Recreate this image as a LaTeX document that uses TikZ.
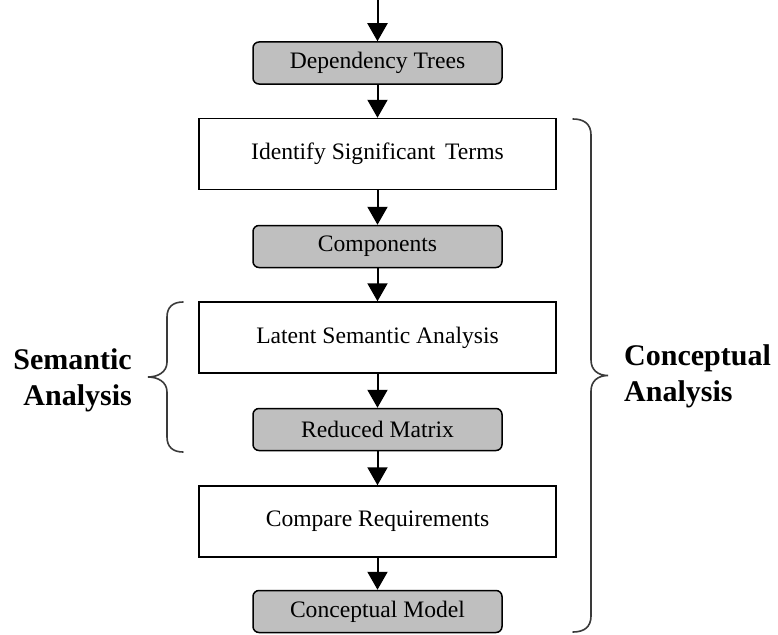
\documentclass[tikz,border=0pt]{standalone}
\usepackage{fontspec}
\setmainfont{Liberation Serif}
\usetikzlibrary{arrows.meta}
\definecolor{datafill}{HTML}{BFBFBF}
\definecolor{bracecol}{HTML}{3A3A3A}
\begin{document}
\begin{tikzpicture}[x=1pt,y=-1pt,
  procbox/.style={draw, line width=1.5pt, fill=white, minimum width=357pt,
    minimum height=71pt, inner sep=0pt, font=\fontsize{23.6}{27}\selectfont},
  databox/.style={draw, line width=1.5pt, fill=datafill, rounded corners=6pt,
    minimum width=249pt, minimum height=42pt, inner sep=0pt,
    font=\fontsize{23.6}{27}\selectfont},
  flow/.style={line width=2pt, -{Triangle[width=20pt,length=18pt]}},
  bracepath/.style={line width=1.6pt, draw=bracecol, line cap=round},
  sidelabel/.style={font=\bfseries\fontsize{30}{36}\selectfont, inner sep=0pt}]
\useasboundingbox (0,0) rectangle (778,634);

% main column
\node[databox] (dep)  at (377.5,63)    {Dependency Trees};
\node[procbox] (ist)  at (377.5,154)   {Identify Significant \,Terms};
\node[databox] (comp) at (377.5,246.5) {Components};
\node[procbox] (lsa)  at (377.5,337.5) {Latent Semantic Analysis};
\node[databox] (rm)   at (377.5,429.5) {Reduced Matrix};
\node[procbox] (cr)   at (377.5,521.5) {Compare Requirements};
\node[databox] (cm)   at (377.5,611.5) {Conceptual Model};

% flow arrows
\coordinate (input) at (377.5,0);
\draw[flow] (input) -- (dep);
\draw[flow] (dep) -- (ist);
\draw[flow] (ist) -- (comp);
\draw[flow] (comp) -- (lsa);
\draw[flow] (lsa) -- (rm);
\draw[flow] (rm) -- (cr);
\draw[flow] (cr) -- (cm);

% left brace: semantic analysis
\draw[bracepath] (183,302) .. controls (173,302) and (167,307) .. (167,317)
  -- (167,362) .. controls (167,372) and (158,377) .. (148,377)
  .. controls (158,377) and (167,382) .. (167,392)
  -- (167,437) .. controls (167,447) and (173,452) .. (183,452);
\node[sidelabel, align=right, anchor=east] (sem) at (132,380.5) {Semantic\\Analysis};

% right brace: conceptual analysis
\draw[bracepath] (573,119) .. controls (584,119) and (591,124) .. (591,135)
  -- (591,360) .. controls (591,370) and (598,375.5) .. (608,375.5)
  .. controls (598,375.5) and (591,381) .. (591,391)
  -- (591,616) .. controls (591,627) and (584,632) .. (573,632);
\node[sidelabel, align=left, anchor=west] (con) at (624,376.5) {Conceptual\\Analysis};
\end{tikzpicture}
\end{document}
